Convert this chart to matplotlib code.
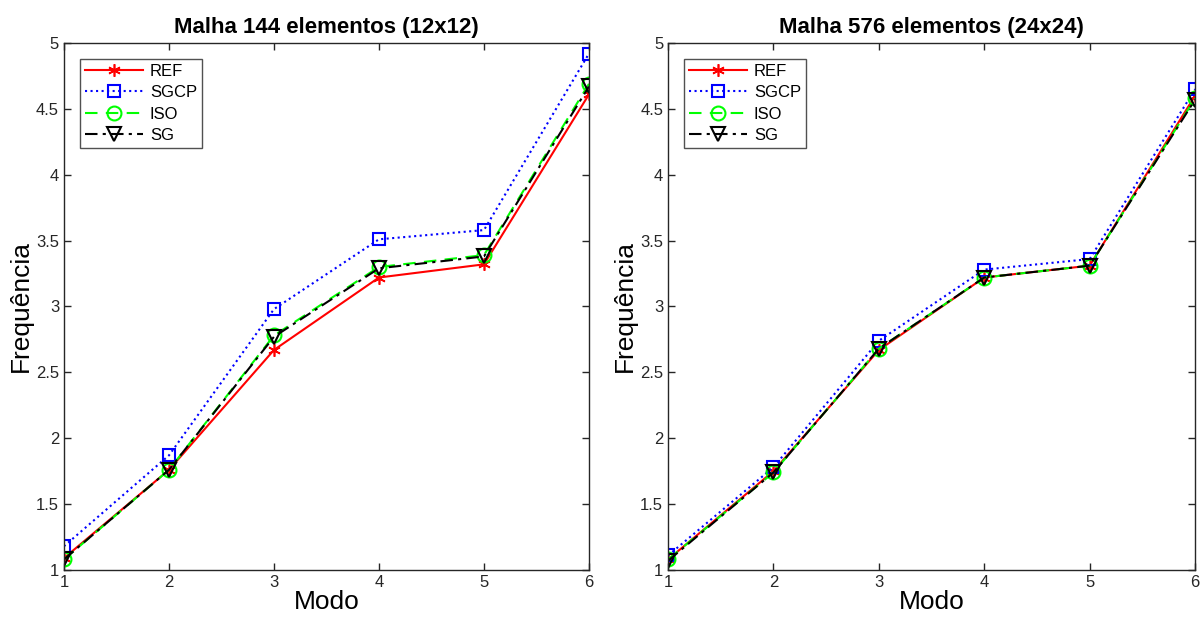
import matplotlib
matplotlib.use("Agg")
import matplotlib.pyplot as plt

plt.rcParams['font.family'] = ['Liberation Sans', 'DejaVu Sans']

modes = [1, 2, 3, 4, 5, 6]
titles = ["Malha 144 elementos (12x12)", "Malha 576 elementos (24x24)"]

ref_144 = [1.09, 1.76, 2.67, 3.22, 3.32, 4.61]
sgcp_144 = [1.18, 1.87, 2.98, 3.51, 3.58, 4.92]
iso_144 = [1.08, 1.76, 2.78, 3.30, 3.39, 4.69]
sg_144 = [1.08, 1.76, 2.77, 3.29, 3.38, 4.67]

ref_576 = [1.08, 1.75, 2.67, 3.22, 3.31, 4.60]
sgcp_576 = [1.11, 1.78, 2.74, 3.28, 3.36, 4.65]
iso_576 = [1.08, 1.74, 2.68, 3.22, 3.31, 4.58]
sg_576 = [1.07, 1.74, 2.68, 3.22, 3.31, 4.57]

yticks = [1, 1.5, 2, 2.5, 3, 3.5, 4, 4.5, 5]
ytick_labels = ["1", "1.5", "2", "2.5", "3", "3.5", "4", "4.5", "5"]

fig = plt.figure(figsize=(12, 6.19), dpi=100)
positions = [[0.0533, 0.0792, 0.4375, 0.8513], [0.5567, 0.0792, 0.4392, 0.8513]]
data = [(ref_144, sgcp_144, iso_144, sg_144), (ref_576, sgcp_576, iso_576, sg_576)]

for pos, title, (ref, sgcp, iso, sg) in zip(positions, titles, data):
    ax = fig.add_axes(pos)
    ax.plot(modes, ref, color='#ff0000', ls='-', lw=1.5, marker=(6, 2, 0), ms=9, mew=1.2, label='REF')
    ax.plot(modes, sgcp, color='#0000ff', ls=':', lw=1.5, marker='s', ms=8, mfc='none', mew=1.5, label='SGCP')
    ax.plot(modes, iso, color='#00ff00', ls=(0, (6, 4)), lw=1.5, marker='o', ms=10, mfc='none', mew=1.5, label='ISO')
    ax.plot(modes, sg, color='black', ls=(0, (6, 2.5, 1.5, 2.5)), lw=1.5, marker='v', ms=10, mfc='none', mew=1.5, label='SG')
    ax.set_xlim(1, 6)
    ax.set_ylim(1, 5)
    ax.set_xticks(modes)
    ax.set_yticks(yticks)
    ax.set_yticklabels(ytick_labels)
    ax.tick_params(direction='in', top=True, right=True, length=5, width=1, colors='#262626', labelsize=12, labelcolor='#262626')
    for s in ax.spines.values():
        s.set_color('#262626')
        s.set_linewidth(1)
    ax.set_title(title, fontsize=16, fontweight='bold', pad=7)
    ax.set_xlabel('Modo', fontsize=19, labelpad=0)
    ax.set_ylabel('Frequência', fontsize=19, labelpad=2)
    leg = ax.legend(loc='upper left', fontsize=12, frameon=True, fancybox=False, edgecolor='#262626',
                    handlelength=3.5, borderaxespad=0.95, labelspacing=0.38, handletextpad=0.4, borderpad=0.3)
    leg.get_frame().set_linewidth(1)

fig.savefig('out.png', dpi=100)
